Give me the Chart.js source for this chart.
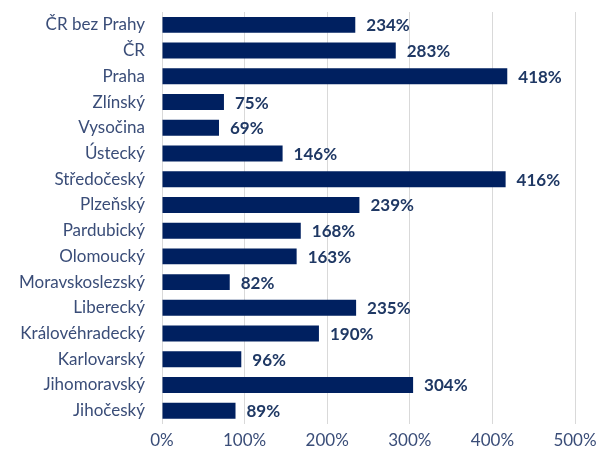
<!DOCTYPE html>
<html>
<head>
<meta charset="utf-8">
<script src="https://cdn.jsdelivr.net/npm/chart.js@4"></script>
<style>
  html, body { margin: 0; padding: 0; background: #fff; }
  #wrap { width: 597px; height: 458px; }
</style>
</head>
<body>
<div id="wrap"><canvas id="chart" width="597" height="458"></canvas></div>
<script>
const regions = ["ČR bez Prahy", "ČR", "Praha", "Zlínský", "Vysočina", "Ústecký", "Středočeský", "Plzeňský",
  "Pardubický", "Olomoucký", "Moravskoslezský", "Liberecký", "Královéhradecký", "Karlovarský", "Jihomoravský", "Jihočeský"];
const values = [234, 283, 418, 75, 69, 146, 416, 239, 168, 163, 82, 235, 190, 96, 304, 89];
const xTicks = [0, 100, 200, 300, 400, 500];

// popisky hodnot za koncem sloupce
const valueLabels = {
  id: "valueLabels",
  afterDatasetsDraw(chart) {
    const ctx = chart.ctx;
    const meta = chart.getDatasetMeta(0);
    ctx.save();
    ctx.font = "bold 17px Lato";
    ctx.fillStyle = "#1f3864";
    ctx.textAlign = "left";
    ctx.textBaseline = "middle";
    meta.data.forEach((bar, i) => {
      ctx.fillText(values[i] + "%", bar.x + 11, bar.y + 1);
    });
    ctx.restore();
  }
};

new Chart(document.getElementById("chart"), {
  type: "bar",
  data: {
    labels: regions,
    datasets: [{
      data: values,
      backgroundColor: "#002060",
      categoryPercentage: 1,
      barPercentage: 0.62
    }]
  },
  options: {
    indexAxis: "y",
    responsive: false,
    animation: false,
    layout: { padding: { top: 12, right: 0, bottom: 0, left: 0 } },
    plugins: { legend: { display: false }, tooltip: { enabled: false } },
    scales: {
      x: {
        min: 0,
        max: 500,
        afterBuildTicks(axis) { axis.ticks = xTicks.map(v => ({ value: v })); },
        afterFit(axis) { axis.paddingRight = 22; },
        grid: { color: "#d9d9d9", drawTicks: false },
        border: { display: false },
        ticks: {
          padding: 7,
          color: "#3a4d78",
          font: { family: "Lato", size: 17 },
          callback: v => v + "%"
        }
      },
      y: {
        afterFit(axis) {
          axis.width = 162;
          axis.paddingTop = 0;
          axis.paddingBottom = 0;
        },
        grid: { display: false, drawTicks: false },
        border: { display: false },
        ticks: {
          padding: 17,
          color: "#3a4d78",
          font: { family: "Lato", size: 17 }
        }
      }
    }
  },
  plugins: [valueLabels]
});
</script>
</body>
</html>
